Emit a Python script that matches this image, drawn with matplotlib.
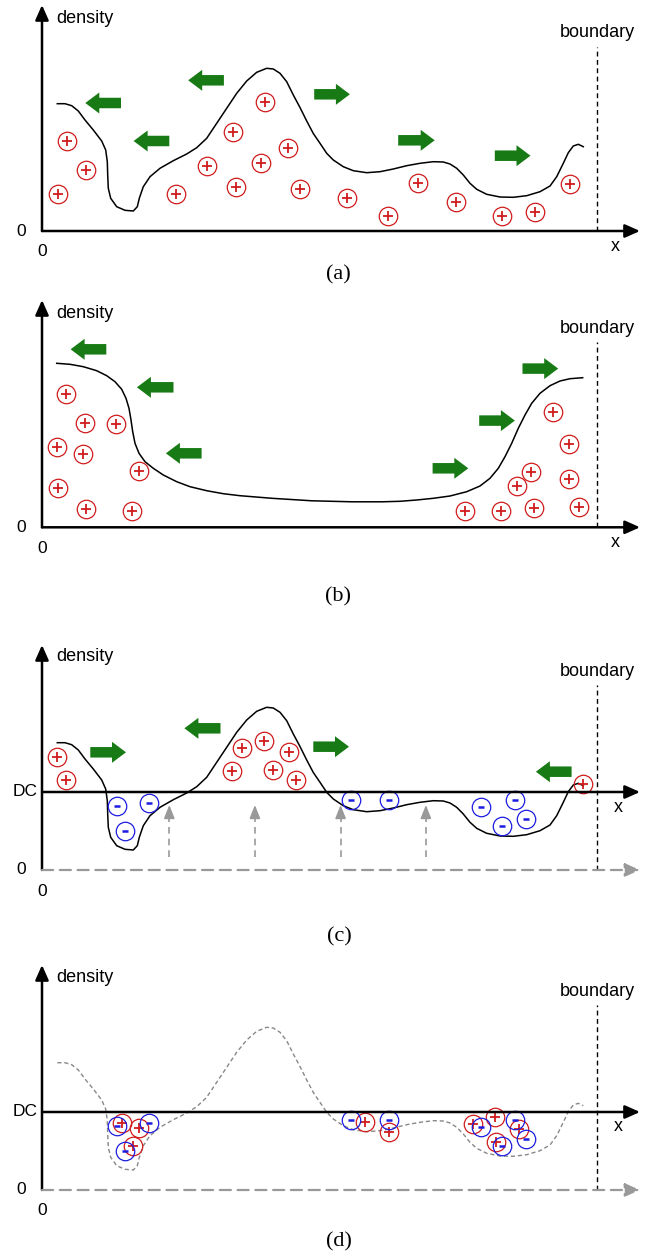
import matplotlib
matplotlib.use("Agg")
import matplotlib.pyplot as plt
from matplotlib.patches import FancyArrow

W, H = 657, 1258

# density profile shared by panels a, c, d (x from the y-axis, height above zero)
wave_x = [15.3, 23, 29.7, 36.3, 43, 51.3, 59.7, 63.7, 65.3, 65.7, 66.3, 68.7,
          74.7, 83, 91.3, 95.3, 97.3, 101.3, 108, 118, 131.3, 144.7, 154.7, 164.7,
          174.7, 184.7, 194.7, 204.7, 214.7, 224.7, 231.3, 238, 244.7, 251.3, 258,
          264.7, 271.3, 278, 284.7, 291.3, 301.3, 311.3, 324.7, 338, 351.3, 364.7,
          378, 391.3, 401.3, 408, 414.7, 421.3, 428, 434.7, 444.7, 458, 471.3,
          484.7, 498, 508, 514.7, 521.3, 526.3, 531.3, 536.3, 541.3]
wave_y = [127.3, 127.3, 125.3, 120, 111, 101, 90, 81, 69.3, 56, 42.7, 32.7, 24.3,
          20.7, 20, 24.3, 32.7, 44.3, 54.3, 62.7, 70.3, 77, 83.3, 92.7, 107.7,
          122.7, 137.7, 150, 158.7, 162.7, 162, 157.7, 149.3, 136, 123.5, 110, 97.5,
          87.7, 77.7, 71, 64.3, 60.3, 58.3, 59.3, 62, 65.3, 67.7, 69.3, 69, 67,
          62.7, 56, 47.7, 41.7, 36.7, 34, 33.7, 35.3, 39.3, 45, 54.3, 67.7, 78.3,
          85, 86.7, 84.3]

# panel b profile
step_x = [14.7, 28, 41.3, 54.7, 64.7, 73, 79.7, 84, 87, 89, 90.7, 93, 97, 103,
          111.3, 121.3, 134.7, 148, 164.7, 181.3, 198, 230, 270, 310, 340, 358,
          374.7, 391.3, 408, 424.7, 438, 448, 456.3, 463, 469.7, 476.3, 483, 489.7,
          498, 508, 518, 528, 540.7]
step_y = [164, 163, 160.6, 156.6, 151.6, 145.6, 138, 129, 119, 107.3, 95.6, 84,
          74, 65.6, 59, 52.3, 45.6, 40.6, 36.6, 33.6, 31.6, 29, 26.5, 25.5, 25.5,
          26, 27.3, 29, 31.3, 35.6, 41.3, 49, 59, 70.6, 84, 99, 112.3, 124, 134,
          141.6, 146.3, 148.6, 149.6]

# positive charges
a_pos_x = [25.2, 44.1, 16, 133.6, 165, 191.1, 222.6, 193.6, 218.8, 245.7, 257.5,
           304.5, 345.7, 375.9, 414.1, 459.5, 492.7, 528.4]
a_pos_y = [90, 61, 36.7, 36.7, 65, 98.7, 128.7, 43.7, 68.3, 82.7, 41.7, 33, 15,
           47.7, 29.3, 15, 18.7, 47.3]
b_pos_x = [24.4, 43.3, 73.5, 14.7, 41.2, 96.6, 15.5, 44.1, 90.3, 423.4, 459,
           491.8, 475, 488.9, 510.7, 527.1, 527.1, 537.2]
b_pos_y = [133, 104.7, 103, 80, 73, 56.7, 39, 18, 16.3, 16.3, 16.3, 19.7, 41.3,
           55.3, 115, 83.3, 48, 20.7]
c_pos_x = [14.7, 24.4, 199.5, 222.2, 247, 190.3, 230.6, 254.1, 541.4]
c_pos_y = [112.7, 90, 121.7, 129.3, 118, 98.7, 100, 89.7, 86]
d_pos_x = [80.2, 97, 90.7, 323.4, 346.5, 430.5, 452.8, 477.1, 454]
d_pos_y = [67.3, 61.7, 44.3, 68.3, 57.7, 65.7, 73.3, 61, 47.7]

# negative charges (same in c and d)
neg_x = [75.2, 106.7, 82.7, 309.1, 346.5, 438.9, 472.9, 484.3, 460.3]
neg_y = [64.3, 66.7, 39.3, 70, 70, 63.3, 70, 50.7, 44.3]

# green diffusion arrows: tail x, head x, y
a_arr_tail = [79, 127.3, 181.9, 272.2, 356.2, 452.8]
a_arr_head = [43.3, 91.6, 146.2, 307.9, 392.7, 488.5]
a_arr_y = [128, 90, 150.7, 136.7, 90.7, 75.3]
b_arr_tail = [64.3, 131.5, 159.6, 390.6, 437.2, 480.5]
b_arr_head = [28.6, 94.9, 123.9, 426.3, 472.9, 516.2]
b_arr_y = [178, 140, 74, 59, 106.7, 158.7]
c_arr_tail = [48.3, 178.5, 271.3, 529.6]
c_arr_head = [84, 142.4, 307, 493.9]
c_arr_y = [117.7, 141.7, 123.3, 98.3]

# gray "field" arrows in c
field_x = [127.3, 212.9, 298.6, 383.9]
field_from, field_to = 13.3, 65

DC = 78
BOUND_X = 555
X_TIP = 598

RED = "#d01c1c"
BLUE = "#1c1ce0"
GREEN = "#177a14"
GRAY = "#999999"
SANS = "Liberation Sans"
SERIF = "Liberation Serif"
FS = 13

fig = plt.figure(figsize=(W / 100, H / 100), dpi=100)


def panel(top, bottom, base):
    ax = fig.add_axes([0, 1 - bottom / H, 1, (bottom - top) / H])
    ax.set_xlim(-42, W - 42)
    ax.set_ylim(base - bottom, base - top)
    ax.axis("off")
    return ax


def arrow(ax, x0, y0, x1, y1, color="black", lw=1.8, ls="-", hl=0.9, hw=0.4):
    ax.annotate("", xy=(x1, y1), xytext=(x0, y0),
                arrowprops=dict(arrowstyle=f"-|>,head_length={hl},head_width={hw}",
                                color=color, lw=lw, linestyle=ls,
                                shrinkA=0, shrinkB=0, mutation_scale=10))


def frame(ax, y_tip, b_top, dens_y, bnd_y, x_lab, caption, dc=False, bottom0=-21):
    arrow(ax, 0, 0, 0, y_tip)
    if dc:
        arrow(ax, 0, 0, X_TIP, 0, color=GRAY, lw=1.6, ls=(0, (5, 3)))
        arrow(ax, 0, DC, X_TIP, DC)
        ax.text(-17, DC, "DC", fontsize=12.5, family=SANS, ha="center", va="center")
    else:
        arrow(ax, 0, 0, X_TIP, 0)
    ax.plot([BOUND_X, BOUND_X], [0, b_top], color="black", lw=1, ls=(0, (3.5, 2.5)))
    ax.text(14, dens_y, "density", fontsize=FS, family=SANS, ha="left", va="center")
    ax.text(BOUND_X, bnd_y, "boundary", fontsize=FS, family=SANS, ha="center", va="center")
    ax.text(-21.3, 0, "0", fontsize=12.5, family=SANS, ha="center", va="center")
    ax.text(0, bottom0, "0", fontsize=12.5, family=SANS, ha="center", va="center")
    ax.text(x_lab[0], x_lab[1], "x", fontsize=FS, family=SANS, ha="center", va="center")
    ax.text(caption[0], caption[1], caption[2], fontsize=16, family=SERIF,
            ha="center", va="center")


def pos(ax, xs, ys):
    ax.plot(xs, ys, "o", ms=13.3, mfc="none", mec=RED, mew=0.9)
    ax.plot(xs, ys, "+", ms=7.5, mec=RED, mew=1.3)


def neg(ax, xs, ys):
    ax.plot(xs, ys, "o", ms=13.3, mfc="none", mec=BLUE, mew=0.9)
    ax.plot(xs, ys, "_", ms=4.5, mec=BLUE, mew=1.8)


def green(ax, tails, heads, ys):
    for t, h, y in zip(tails, heads, ys):
        ax.add_patch(FancyArrow(t, y, h - t, 0, width=10.5, head_width=21,
                                head_length=14, length_includes_head=True,
                                color=GREEN, lw=0))


# (a)
ax = panel(0, 290, 231)
frame(ax, 226, 184, 212.7, 198.3, (573.3, -15.7), (296.5, -44, "(a)"))
ax.plot(wave_x, wave_y, color="black", lw=1.1)
pos(ax, a_pos_x, a_pos_y)
green(ax, a_arr_tail, a_arr_head, a_arr_y)

# (b)
ax = panel(290, 620, 527.3)
frame(ax, 227.3, 185.7, 213.3, 199, (573.3, -15), (296.5, -70, "(b)"))
ax.plot(step_x, step_y, color="black", lw=1.1)
pos(ax, b_pos_x, b_pos_y)
green(ax, b_arr_tail, b_arr_head, b_arr_y)

# (c)
ax = panel(620, 960, 870)
frame(ax, 225, 185, 213.7, 198.3, (576.6, 62.3), (297, -67, "(c)"), dc=True,
      bottom0=-21.7)
ax.plot(wave_x, wave_y, color="black", lw=1.1)
for fx in field_x:
    ax.plot([fx, fx], [field_from, field_to - 8], color=GRAY, lw=1.2, ls=(0, (4, 3)))
    arrow(ax, fx, field_to - 10, fx, field_to, color=GRAY, lw=1.2, hl=0.8, hw=0.32)
pos(ax, c_pos_x, c_pos_y)
neg(ax, neg_x, neg_y)
green(ax, c_arr_tail, c_arr_head, c_arr_y)

# (d)
ax = panel(960, 1258, 1190)
frame(ax, 225, 185, 212.7, 198.3, (576.6, 63.3), (296.5, -52, "(d)"), dc=True,
      bottom0=-20.7)
ax.plot(wave_x, wave_y, color="#888888", lw=1, ls=(0, (3, 2)))
pos(ax, d_pos_x, d_pos_y)
neg(ax, neg_x, neg_y)

fig.savefig("out.png", dpi=100)
